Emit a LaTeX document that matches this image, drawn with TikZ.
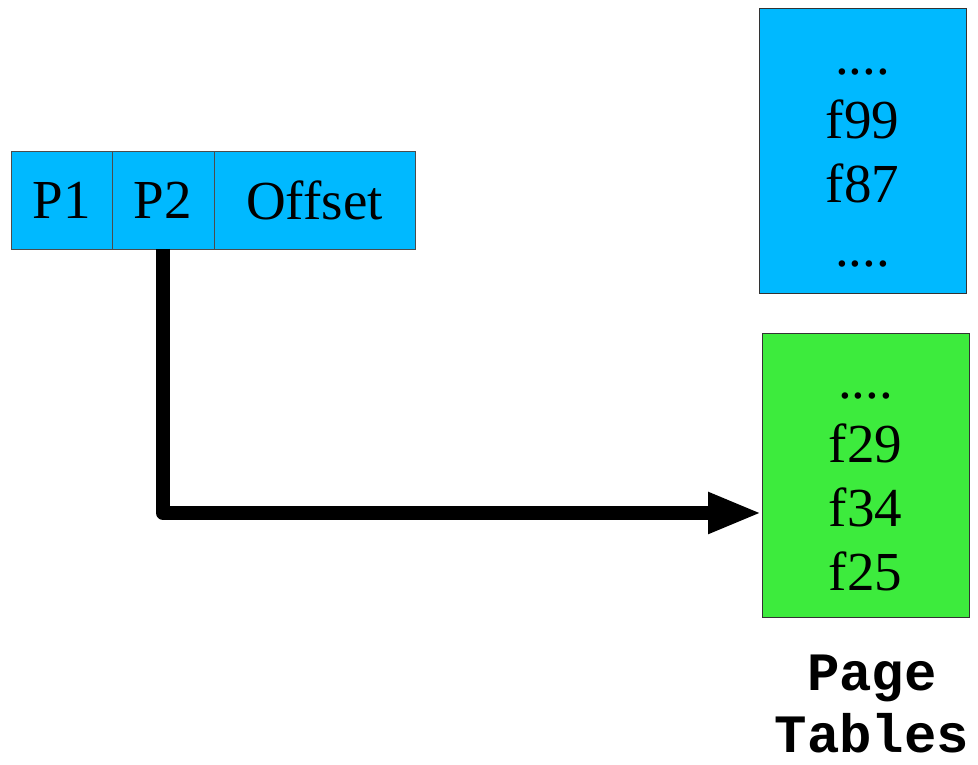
\documentclass[tikz,border=0pt]{standalone}
\usepackage{fontspec}
\setmainfont{Liberation Serif}
\setmonofont{Liberation Mono}
\usetikzlibrary{positioning,arrows.meta}
\definecolor{tblblue}{RGB}{0,185,255}
\definecolor{tblgreen}{RGB}{61,235,61}
\newcommand{\topstrut}{\rule{0pt}{59pt}}
\tikzset{
  cell/.style={draw=black!70, fill=tblblue, inner sep=0pt, outer sep=0pt,
    minimum height=98pt, font=\fontsize{55}{63}\selectfont},
  tablebox/.style={draw=black!80, inner sep=0pt, outer sep=0pt, minimum width=207pt,
    minimum height=285pt, align=center, font=\fontsize{55}{64}\selectfont},
}

\begin{document}
\begin{tikzpicture}[x=1pt,y=1pt]
                    \useasboundingbox (0,0) rectangle (978,765);
                    \node[cell, minimum width=101pt] (p1) at (61.5,565) {P1};
                    \node[cell, minimum width=102pt, right=0pt of p1] (p2) {P2};
                    \node[cell, minimum width=201pt, right=0pt of p2] (offset) {Offset};
                    \node[tablebox, fill=tblblue] (outer) at (862.5,614.5) {\topstrut....\\f99\\f87\\\strut....};
                    \node[tablebox, fill=tblgreen, minimum height=284pt] (inner) at (865.5,290) {\topstrut....\\f29\\f34\\f25\strut};
                    \node[below=29.6pt of inner, xshift=6.5pt, inner sep=0pt, align=center,
                      font=\fontsize{54}{62}\selectfont\ttfamily\bfseries] (label) {\strut Page\\Tables};
                    \draw[line width=14pt, line join=round, -{Triangle[length=54pt,width=38pt]}] (p2.south) |- ([yshift=-38pt]inner.west);
                \end{tikzpicture}
\end{document}
